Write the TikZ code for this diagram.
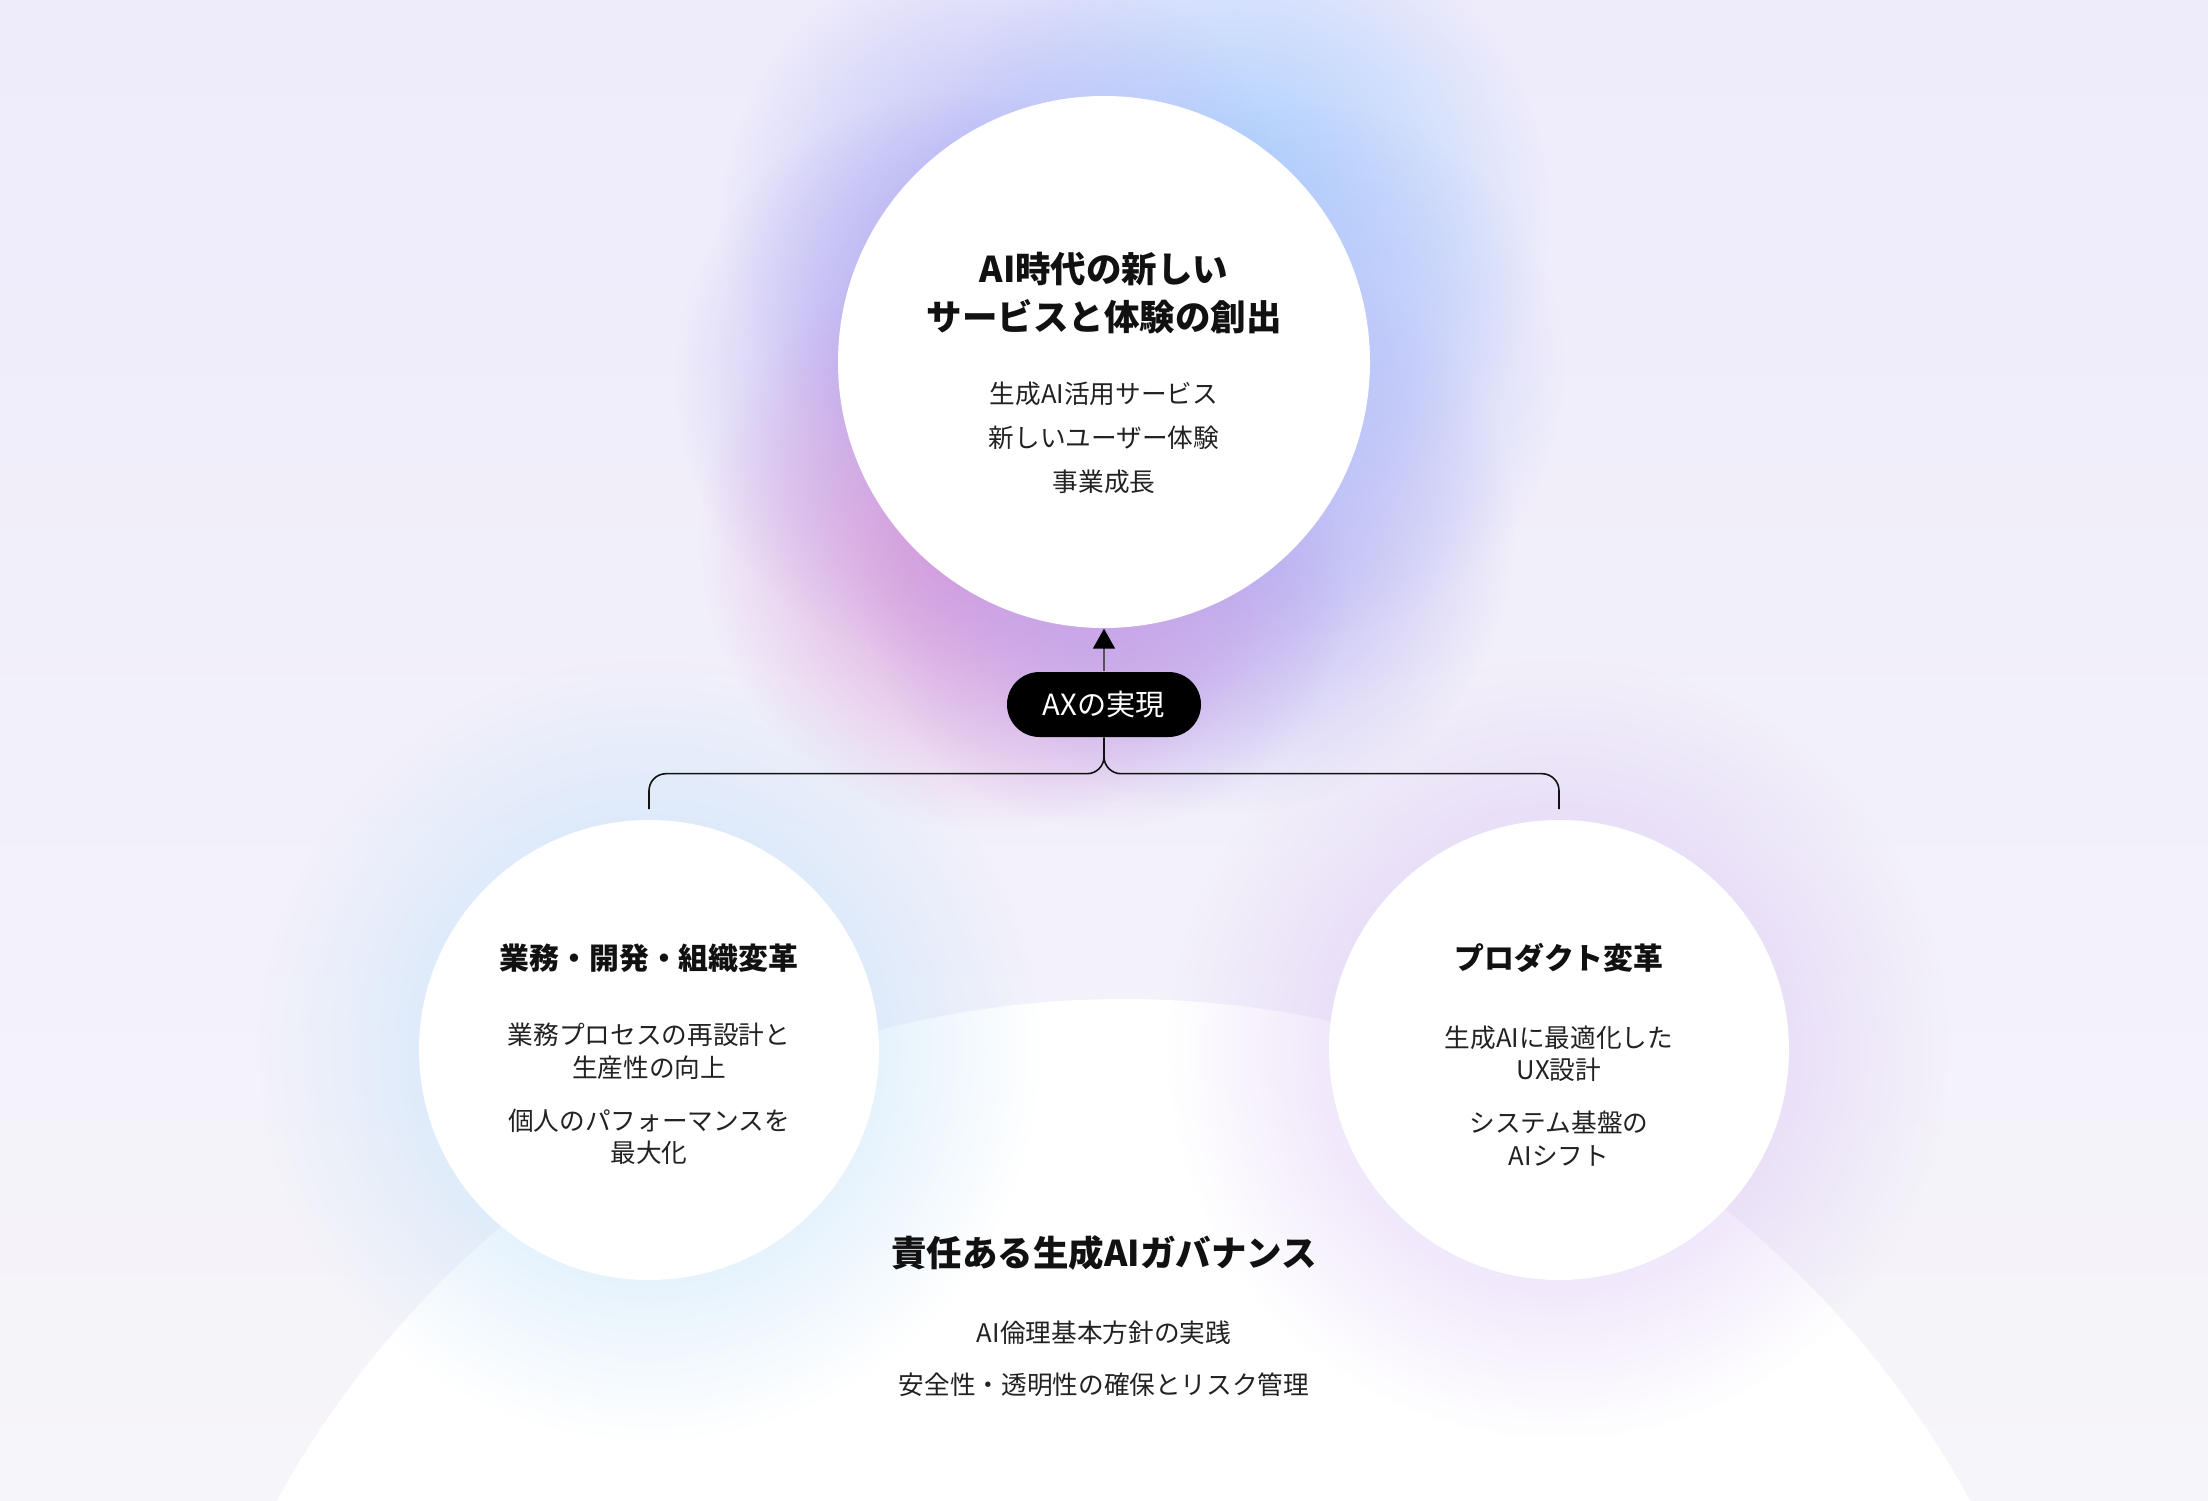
\documentclass[tikz,border=0pt]{standalone}
\usepackage{fontspec}
\setmainfont{Noto Sans CJK JP}
\usetikzlibrary{arrows.meta,fadings}
\definecolor{bgtop}{HTML}{EEEBFB}
\definecolor{bgbottom}{HTML}{F6F5F9}
\definecolor{glowblue}{HTML}{A2CBFF}
\definecolor{glowperi}{HTML}{B4B8F7}
\definecolor{glowviolet}{HTML}{AFA2F0}
\definecolor{glowpink}{HTML}{D892D6}
\definecolor{glowlav}{HTML}{B2AAF3}
\definecolor{glowright}{HTML}{BAC4FA}
\definecolor{glowbottom}{HTML}{C8A4E8}
\definecolor{glowsky}{HTML}{C2E2FA}
\definecolor{glowlilac}{HTML}{DCC7F6}
\definecolor{inkdark}{HTML}{111111}
\definecolor{inktext}{HTML}{222222}
\definecolor{linegray}{HTML}{555555}
\tikzfading[name=glowfade, inner color=transparent!0, outer color=transparent!100]
\begin{document}
\begin{tikzpicture}[
    bubble/.style={circle, fill=white, inner sep=0pt},
    head/.style={align=center, text=inkdark, font=\fontsize{10.1}{13.7}\selectfont\bfseries},
    subhead/.style={align=center, text=inkdark, font=\fontsize{8.5}{10}\selectfont\bfseries},
    items/.style={align=center, text=inktext, font=\fontsize{7.3}{#1}\selectfont},
    items/.default=9.25,
    pill/.style={rectangle, rounded corners=0.325cm, fill=black, text=white,
      minimum width=1.94cm, minimum height=0.65cm, inner sep=0pt,
      font=\fontsize{8.3}{10}\selectfont},
    arrowline/.style={draw=linegray, line width=0.5pt, -{Triangle[width=0.22cm,length=0.2cm,color=black]}},
    branch/.style={draw=inkdark, line width=0.45pt, rounded corners=0.17cm}
  ]
  \useasboundingbox (0,0) rectangle (22.08,15);
  \clip (0,0) rectangle (22.08,15);
  \shade[top color=bgtop, bottom color=bgbottom] (0,0) rectangle (22.08,15);
  \fill[white] (11.235,-4.64) circle (9.65);
  \foreach \x/\y/\g/\c in {12.35/12.85/3.15/glowblue, 10.0/12.8/2.8/glowperi,
      9.6/11.2/2.85/glowviolet, 9.9/9.6/2.9/glowpink, 12.3/9.7/2.85/glowlav,
      13.0/11.3/2.65/glowright, 11.04/9.1/2.4/glowbottom,
      6.49/4.50/3.9/glowsky, 15.59/4.50/3.9/glowlilac}
    \fill[\c, path fading=glowfade] (\x,\y) circle (\g);

  \node[bubble, minimum size=5.32cm] (vision) at (11.04,11.38) {};
  \node[bubble, minimum size=4.60cm] (ops) at (6.49,4.50) {};
  \node[bubble, minimum size=4.60cm] (product) at (15.59,4.50) {};
  \node[pill] (ax) at (11.04,7.955) {AXの実現};

  \node[head] (visionhead) at (11.04,12.07) {AI時代の新しい\\サービスと体験の創出};
  \node[items=12.5] (visionitems) at (11.04,10.62) {生成AI活用サービス\\新しいユーザー体験\\事業成長};
  \node[subhead] (opshead) at (6.49,5.42) {業務・開発・組織変革};
  \node[items] (opsitems) at (6.49,4.06) {業務プロセスの再設計と\\生産性の向上\\[5.8pt]個人のパフォーマンスを\\最大化};
  \node[subhead] (producthead) at (15.59,5.42) {プロダクト変革};
  \node[items] (productitems) at (15.59,4.04) {生成AIに最適化した\\UX設計\\[5.8pt]システム基盤の\\AIシフト};
  \node[head] (govhead) at (11.04,2.47) {責任ある生成AIガバナンス};
  \node[items=14.8] (govitems) at (11.04,1.41) {AI倫理基本方針の実践\\安全性・透明性の確保とリスク管理};

  \coordinate (opsin) at (6.49,6.91);
  \coordinate (productin) at (15.59,6.91);
  \draw[arrowline] (ax.north) -- (vision.south);
  \draw[branch] (ax.south) -- ++(0,-0.36) -| (opsin);
  \draw[branch] (ax.south) -- ++(0,-0.36) -| (productin);
\end{tikzpicture}
\end{document}
